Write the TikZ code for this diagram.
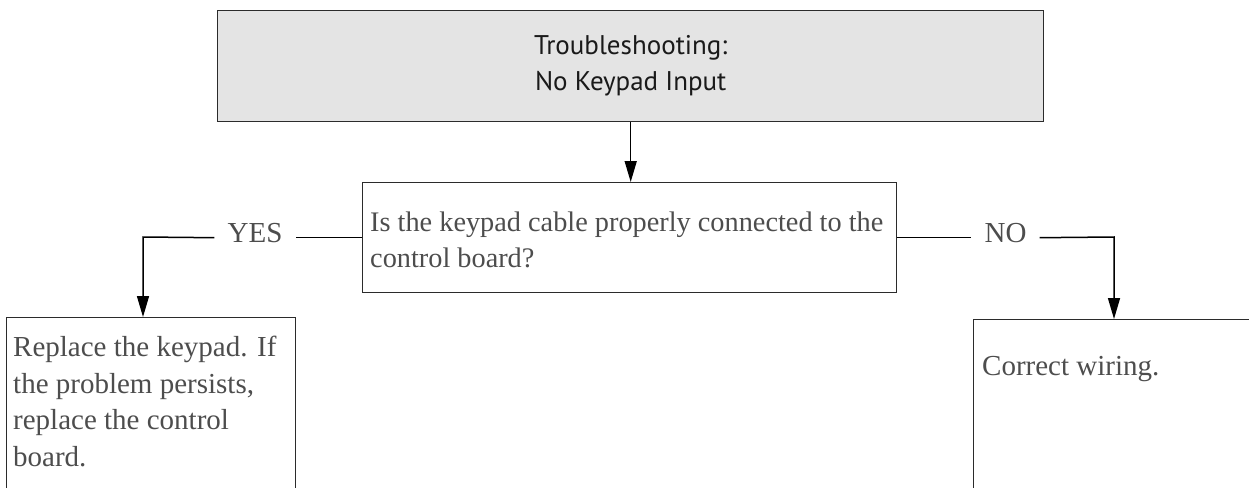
\documentclass[tikz,border=0pt]{standalone}
\usepackage{fontspec}
\setmainfont{Liberation Serif}
\newfontfamily\hdfont{PT Sans}
\usetikzlibrary{arrows.meta}
\definecolor{txt}{HTML}{4D4D4D}
\definecolor{edge}{HTML}{2B2B2B}
\definecolor{hdfill}{HTML}{E4E4E4}
\definecolor{hdtxt}{HTML}{1A1A1A}
\begin{document}
\begin{tikzpicture}[x=1pt,y=-1pt,
  box/.style={draw=edge,line width=1.4pt,inner sep=0pt,anchor=north west},
  conn/.style={draw=black,line width=1.5pt},
  arr/.style={conn,-{Triangle[length=21pt,width=12pt]}},
  body/.style={font=\fontsize{29}{36.5}\selectfont,text=txt,inner sep=0pt},
  lbl/.style={body,inner xsep=13pt,inner ysep=0pt}]
\useasboundingbox (0,0) rectangle (1249,487);
\clip (0,0) rectangle (1249,487);
\node[box,fill=hdfill,minimum width=826pt,minimum height=111pt,align=center,
  font=\hdfont\fontsize{27}{36}\selectfont,text=hdtxt] (top) at (217,10)
  {Troubleshooting:\\No Keypad Input};
\node[box,minimum width=534pt,minimum height=110pt] (mid) at (362,182) {};
\node[body,font=\fontsize{28.3}{36.5}\selectfont,anchor=west,align=left] (midtext)
  at ([xshift=8pt,yshift=-2pt]mid.west)
  {Is the keypad cable properly connected to the\\control board?};
\node[box,minimum width=289pt,minimum height=300pt] (lbox) at (6,317) {};
\node[body,anchor=north west,align=left] (ltext) at (13,336)
  {Replace the keypad. If\\the problem persists,\\replace the control\\board.};
\node[box,minimum width=400pt,minimum height=300pt] (rbox) at (973,319) {};
\node[body,anchor=base west] (rtext) at (982,375) {Correct wiring.};
\node[lbl] (yes) at (255,233.5) {YES};
\node[lbl] (no) at (1005.5,233.5) {NO};
\coordinate (yesc) at (143,237);
\coordinate (noc) at (1114,237);
\draw[arr] (top.south) -- (top.south |- mid.north);
\draw[conn] (mid.west) -- (mid.west -| yes.east);
\draw[arr] (mid.west -| yes.west) -- (yesc) -- (yesc |- lbox.north);
\draw[conn] (mid.east) -- (mid.east -| no.west);
\draw[arr] (mid.east -| no.east) -- (noc) -- (noc |- rbox.north);
\end{tikzpicture}
\end{document}
